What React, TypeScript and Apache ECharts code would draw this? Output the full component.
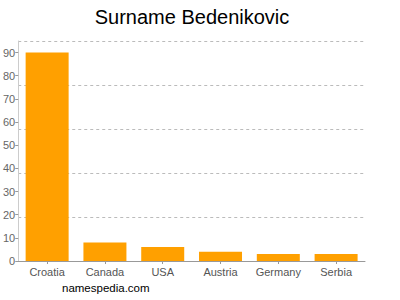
import React, { useEffect, useRef } from "react";
import * as echarts from "echarts";

const categories = ["Croatia", "Canada", "USA", "Austria", "Germany", "Serbia"];
const values = [90, 8, 6, 4, 3, 3];
const titleText = "Surname Bedenikovic";
const footerText = "namespedia.com";

export default function App() {
  const ref = useRef<HTMLDivElement>(null);
  useEffect(() => {
    if (!ref.current) return;
    const chart = echarts.init(ref.current, null, { renderer: "svg" });
    chart.setOption({
      animation: false,
      textStyle: { color: "#666" },
      title: {
        text: titleText,
        left: 187,
        textAlign: "center",
        top: 2,
        textStyle: { fontFamily: "Liberation Sans, Arial", fontSize: 20, fontWeight: "normal", color: "#000" },
      },
      graphic: [
        {
          type: "text",
          left: 62,
          top: 282,
          style: { text: footerText, font: "11.5px Liberation Sans, Arial", fill: "#000" },
        },
      ],
      grid: { left: 18, right: 35, top: 41, bottom: 39, containLabel: false },
      xAxis: {
        type: "category",
        data: categories,
        axisLine: { show: true, lineStyle: { color: "#999" } },
        axisTick: { show: true, alignWithLabel: true, interval: 0, length: 3, lineStyle: { color: "#999" } },
        axisLabel: { color: "#555", fontSize: 11, interval: 0, fontFamily: "Liberation Sans, Arial", margin: 5 },
      },
      yAxis: [
        {
          type: "value",
          min: 0,
          max: 95,
          interval: 10,
          axisLine: { show: true, lineStyle: { color: "#ccc" } },
          axisTick: { show: true, length: 3, lineStyle: { color: "#999" } },
          axisLabel: { color: "#666666", fontSize: 11, fontFamily: "Liberation Sans, Arial", margin: 3, showMaxLabel: false },
          splitLine: { show: false },
        },
        {
          type: "value",
          min: 0,
          max: 95,
          interval: 19,
          position: "left",
          axisLine: { show: false },
          axisTick: { show: false },
          axisLabel: { show: false },
          splitLine: { show: true, lineStyle: { color: "#bbb", type: [3, 3], width: 1 } },
        },
      ],
      series: [
        {
          type: "bar",
          data: values,
          barWidth: 43,
          itemStyle: { color: "#ffa000" },
          yAxisIndex: 0,
        },
      ],
    });
    return () => chart.dispose();
  }, []);
  return <div ref={ref} style={{ width: 400, height: 300, position: "absolute", left: 0, top: 0 }} />;
}
